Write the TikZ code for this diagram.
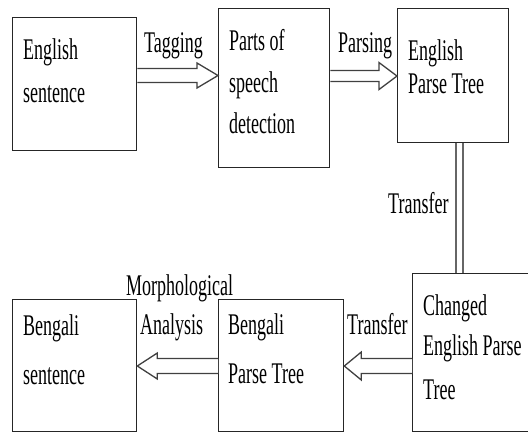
\documentclass[tikz,border=0pt]{standalone}
\usepackage{fontspec}
\setmainfont{Liberation Serif}[FakeStretch=0.6]
\usetikzlibrary{calc}

% Hollow block arrow between two points on the same height:
% #1 start, #2 tip, #3 shaft half-width, #4 head half-width, #5 head length
\newcommand{\blockarrow}[5]{%
  \filldraw[blockarr] let \p1=#1, \p2=#2, \n1={sign(\x2-\x1)} in
    (\x1,{\y1+#3}) -- ({\x2-\n1*#5},{\y1+#3}) -- ({\x2-\n1*#5},{\y1+#4})
    -- (\x2,\y1) -- ({\x2-\n1*#5},{\y1-#4}) -- ({\x2-\n1*#5},{\y1-#3})
    -- (\x1,{\y1-#3});
}

\tikzset{
  box/.style={draw=black!85, line width=1.3pt, fill=white, inner sep=0pt, anchor=north west},
  txt/.style={inner sep=0pt, anchor=base west, font=\fontsize{30}{30}\selectfont},
  blockarr/.style={draw=black!75, fill=white, line width=1.3pt, line join=miter},
  twin/.style={draw=black!60, line width=1.3pt, double=white, double distance=5.7pt}
}

\begin{document}
\begin{tikzpicture}[x=1pt, y=-1pt]
\useasboundingbox (0,0) rectangle (528,432);
\clip (0,0) rectangle (528,432);

% boxes
\node[box, minimum width=124pt, minimum height=133pt] (b1) at (12,17) {};
\node[box, minimum width=111pt, minimum height=159pt] (b2) at (218,8) {};
\node[box, minimum width=111pt, minimum height=134pt] (b3) at (397,8) {};
\node[box, minimum width=133pt, minimum height=158pt] (b4) at (412,273) {};
\node[box, minimum width=125pt, minimum height=132pt] (b5) at (218,299) {};
\node[box, minimum width=124pt, minimum height=132pt] (b6) at (12,299) {};

% box texts
\node[txt] (t1a) at (23,59) {English};
\node[txt] (t1b) at (23,102) {sentence};
\node[txt] (t2a) at (229,50) {Parts of};
\node[txt] (t2b) at (229,92) {speech};
\node[txt] (t2c) at (229,133) {detection};
\node[txt] (t3a) at (408,60) {English};
\node[txt] (t3b) at (408,93) {Parse Tree};
\node[txt] (t4a) at (423,315) {Changed};
\node[txt] (t4b) at (423,355) {English Parse};
\node[txt] (t4c) at (423,399) {Tree};
\node[txt] (t5a) at (228,334) {Bengali};
\node[txt] (t5b) at (228,383) {Parse Tree};
\node[txt] (t6a) at (23,335) {Bengali};
\node[txt] (t6b) at (23,384) {sentence};

% arrow heights
\coordinate (ytag) at (0,75.5);
\coordinate (ypar) at (0,76);
\coordinate (ylow) at (0,366);
\coordinate (xvert) at (459.5,0);

% connectors
\blockarrow{(b1.east |- ytag)}{(b2.west |- ytag)}{7pt}{12.5pt}{21pt}
\blockarrow{(b2.east |- ypar)}{(b3.west |- ypar)}{5.5pt}{13.5pt}{18pt}
\blockarrow{(b4.west |- ylow)}{(b5.east |- ylow)}{7.5pt}{14pt}{17pt}
\blockarrow{(b5.west |- ylow)}{(b6.east |- ylow)}{7.5pt}{13pt}{20pt}
\draw[twin] (b3.south -| xvert) -- (b4.north -| xvert);

% connector labels
\node[txt] (lt) at (144,52) {Tagging};
\node[txt] (lp) at (338,52) {Parsing};
\node[txt] (ltr1) at (388,213) {Transfer};
\node[txt] (ltr2) at (347,334) {Transfer};
\node[txt] (lm1) at (126,295) {Morphological};
\node[txt] (lm2) at (140,334) {Analysis};
\end{tikzpicture}
\end{document}
